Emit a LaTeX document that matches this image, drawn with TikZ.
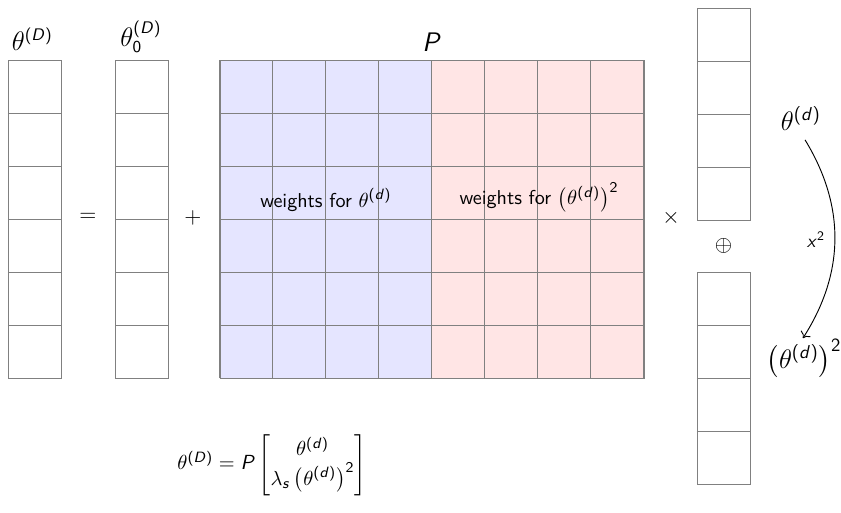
\documentclass[tikz,border=0pt]{standalone}
\usepackage{amsmath}
\usetikzlibrary{arrows.meta}
\DeclareSymbolFont{operators}{OT1}{cmss}{m}{n}
\DeclareSymbolFont{sfit}{OT1}{cmss}{m}{sl}
\DeclareMathSymbol{D}{\mathalpha}{sfit}{`D}
\DeclareMathSymbol{d}{\mathalpha}{sfit}{`d}
\DeclareMathSymbol{P}{\mathalpha}{sfit}{`P}
\DeclareMathSymbol{s}{\mathalpha}{sfit}{`s}
\DeclareMathSymbol{x}{\mathalpha}{sfit}{`x}
\begin{document}
\begin{tikzpicture}[
  gridline/.style={draw=black!50, line width=0.5pt},
  vecbox/.style={draw=black!50, line width=0.6pt, fill=white},
  lbl/.style={inner sep=1pt, font=\fontsize{13.5}{16}\selectfont},
  rlbl/.style={inner sep=1pt, font=\fontsize{14}{17}\selectfont},
  op/.style={inner sep=1pt, font=\large},
  txt/.style={inner sep=1pt, font=\fontsize{10.8}{13}\selectfont\sffamily}
]
\useasboundingbox (0,0) rectangle (15.868,-9.679);
% left vector theta^(D)
\node[vecbox, minimum width=1cm, minimum height=6cm, anchor=north west, inner sep=0] (vD) at (0.15,-1.132) {};
\foreach \k in {1,...,5} \draw[gridline] (0.15,-1.132-\k) -- (1.15,-1.132-\k);
\node[lbl, anchor=base] (lD) at (0.61,-0.95) {$\theta^{(D)}$};
% theta_0 vector
\node[vecbox, minimum width=1cm, minimum height=6cm, anchor=north west, inner sep=0] (v0) at (2.17,-1.132) {};
\foreach \k in {1,...,5} \draw[gridline] (2.17,-1.132-\k) -- (3.17,-1.132-\k);
\node[lbl, anchor=base] (l0) at (2.66,-0.88) {$\theta_0^{(D)}$};
% P matrix
\fill[blue!10] (4.15,-1.132) rectangle (8.15,-7.132);
\fill[red!10] (8.15,-1.132) rectangle (12.15,-7.132);
\draw[gridline, shift={(4.15,-7.132)}] (0,0) grid (8,6);
\node[vecbox, fill=none, minimum width=8cm, minimum height=6cm, anchor=north west, inner sep=0] (Pm) at (4.15,-1.132) {};
\node[lbl, anchor=base] (lP) at (8.15,-0.97) {$P$};
\node[txt] (w1) at (6.15,-3.77) {weights for $\theta^{(d)}$};
\node[txt] (w2) at (10.17,-3.72) {weights for $\left(\theta^{(d)}\right)^2$};
% right vectors
\node[vecbox, minimum width=1cm, minimum height=4cm, anchor=north west, inner sep=0] (vt) at (13.15,-0.151) {};
\foreach \k in {1,...,3} \draw[gridline] (13.15,-0.151-\k) -- (14.15,-0.151-\k);
\node[vecbox, minimum width=1cm, minimum height=4cm, anchor=north west, inner sep=0] (vb) at (13.15,-5.132) {};
\foreach \k in {1,...,3} \draw[gridline] (13.15,-5.132-\k) -- (14.15,-5.132-\k);
% operators
\node[op] (eq) at (1.66,-4.11) {$=$};
\node[op] (pl) at (3.64,-4.11) {$+$};
\node[op] (tm) at (12.66,-4.11) {$\times$};
\node[op] (os) at (13.65,-4.64) {$\oplus$};
% squaring arrow
\node[rlbl] (td) at (15.11,-2.23) {$\theta^{(d)}$};
\node[rlbl] (td2) at (15.17,-6.77) {$\left(\theta^{(d)}\right)^2$};
\draw[-{To[length=3pt]}, line width=0.5pt] ([shift={(0.08,-0.41)}]td.center) to[bend left=32] node[left=4pt, pos=0.5, inner sep=1pt] (sq) {$x^2$} ([shift={(-0.02,0.39)}]td2.center);
% formula
\node[inner sep=0, font=\fontsize{11}{13}\selectfont] (fm) at (5.13,-8.77) {$\theta^{(D)} = P\begin{bmatrix}\theta^{(d)}\\ \lambda_s\left(\theta^{(d)}\right)^2\end{bmatrix}$};
\end{tikzpicture}
\end{document}
